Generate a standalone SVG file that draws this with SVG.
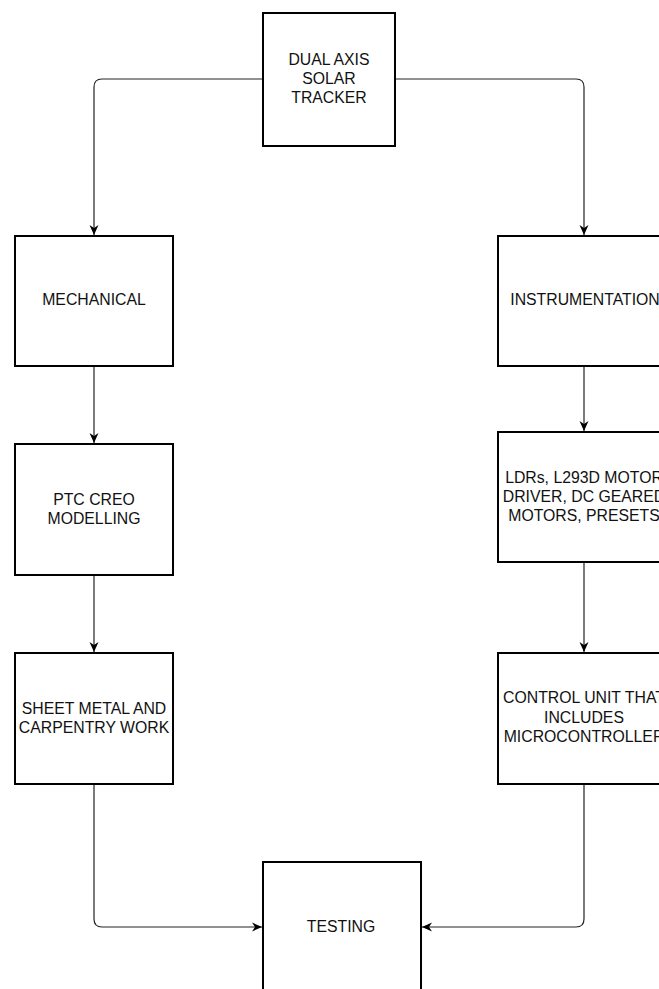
<svg xmlns="http://www.w3.org/2000/svg" width="659" height="989" viewBox="0 0 659 989">
<style>
.box{fill:#fff;stroke:#000;stroke-width:2}
.lbl{font-family:"Liberation Sans",Arial,Helvetica,sans-serif;font-size:15.8px;fill:#111;text-anchor:middle;dominant-baseline:central}
.edge{fill:none;stroke:#222;stroke-width:1.2;marker-end:url(#arr)}
</style>
<defs>
<marker id="arr" viewBox="0 0 10 10" refX="10" refY="5" markerWidth="11" markerHeight="10" orient="auto" markerUnits="userSpaceOnUse">
<path d="M0,0.5 L10,5 L0,9.5 L3,5 Z" fill="#000"/>
</marker>
</defs>
<rect width="659" height="989" fill="#fff"/>
<g id="connectors">
<path class="edge" d="M263,79 H102 Q94,79 94,87 V235"/>
<path class="edge" d="M395,79 H576 Q584,79 584,87 V235"/>
<path class="edge" d="M94,366 V443"/>
<path class="edge" d="M94,575 V652"/>
<path class="edge" d="M584,366 V431"/>
<path class="edge" d="M584,562 V652"/>
<path class="edge" d="M94,784 V919 Q94,927 102,927 H262"/>
<path class="edge" d="M584,784 V919 Q584,927 576,927 H422"/>
</g>
<g id="n-solar">
<rect class="box" x="263" y="13" width="132" height="133"/>
<text class="lbl" x="329" y="59">DUAL AXIS</text>
<text class="lbl" x="329" y="78">SOLAR</text>
<text class="lbl" x="329" y="97">TRACKER</text>
</g>
<g id="n-mech">
<rect class="box" x="15" y="236" width="158" height="130"/>
<text class="lbl" x="94" y="299">MECHANICAL</text>
</g>
<g id="n-instr">
<rect class="box" x="498" y="236" width="172" height="130"/>
<text class="lbl" x="585" y="299">INSTRUMENTATION</text>
</g>
<g id="n-creo">
<rect class="box" x="15" y="444" width="158" height="131"/>
<text class="lbl" x="94" y="499">PTC CREO</text>
<text class="lbl" x="94" y="518">MODELLING</text>
</g>
<g id="n-ldr">
<rect class="box" x="498" y="432" width="172" height="130"/>
<text class="lbl" x="584" y="477">LDRs, L293D MOTOR</text>
<text class="lbl" x="584" y="496">DRIVER, DC GEARED</text>
<text class="lbl" x="584" y="515">MOTORS, PRESETS</text>
</g>
<g id="n-sheet">
<rect class="box" x="15" y="653" width="158" height="131"/>
<text class="lbl" x="94" y="708">SHEET METAL AND</text>
<text class="lbl" x="94" y="727">CARPENTRY WORK</text>
</g>
<g id="n-control">
<rect class="box" x="498" y="653" width="172" height="131"/>
<text class="lbl" x="584" y="697">CONTROL UNIT THAT</text>
<text class="lbl" x="584" y="717">INCLUDES</text>
<text class="lbl" x="584" y="736">MICROCONTROLLER</text>
</g>
<g id="n-testing">
<rect class="box" x="263" y="862" width="158" height="131"/>
<text class="lbl" x="341" y="926">TESTING</text>
</g>
</svg>
